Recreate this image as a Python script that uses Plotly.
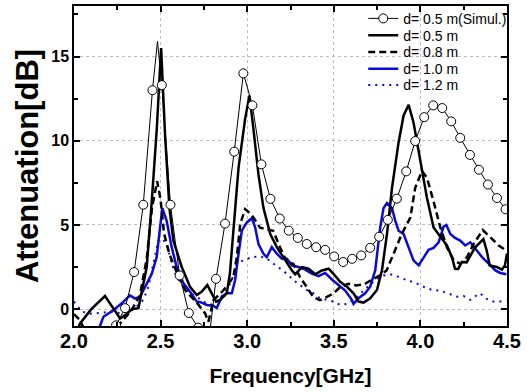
import plotly.graph_objects as go

# ---- data ----
sim_mark_f = [2.243, 2.295, 2.347, 2.400, 2.453, 2.507, 2.557, 2.610, 2.663, 2.717, 2.770,
              2.820, 2.872, 2.925, 2.978, 3.030, 3.082, 3.134, 3.188, 3.240, 3.292, 3.344,
              3.398, 3.450, 3.502, 3.554, 3.606, 3.658, 3.710, 3.762, 3.812, 3.864, 3.918,
              3.970, 4.022, 4.074, 4.126, 4.178, 4.230, 4.286, 4.338, 4.390, 4.442, 4.492]
sim_mark_v = [-0.96, 0.06, 2.2, 6.2, 13.0, 13.3, 6.2, 2.0, -0.23, -1.1, -2.6,
              1.8, 5.08, 9.35, 14.0, 12.1, 8.6, 6.55, 5.38, 4.66, 4.23, 3.87,
              3.68, 3.52, 3.13, 2.8, 2.99, 3.19, 3.64, 4.3, 5.3, 6.56, 8.18,
              9.98, 11.4, 12.1, 11.94, 11.15, 10.17, 9.16, 8.28, 7.4, 6.6, 5.93]
sim_peak_f = [2.482]
sim_peak_v = [15.9]

d05_f = [2.00, 2.035, 2.10, 2.179, 2.237, 2.266, 2.31, 2.333, 2.372, 2.42, 2.449, 2.478, 2.503,
         2.526, 2.551, 2.574, 2.622, 2.67, 2.709, 2.738, 2.77, 2.795, 2.82, 2.844, 2.882, 2.90,
         2.92, 2.95, 2.988, 3.013, 3.036, 3.065, 3.094, 3.133, 3.171, 3.219, 3.258, 3.277, 3.316,
         3.354, 3.393, 3.431, 3.47, 3.498, 3.537, 3.576, 3.614, 3.643, 3.672, 3.71, 3.749, 3.778,
         3.807, 3.836, 3.874, 3.903, 3.932, 3.96, 3.999, 4.038, 4.076, 4.115, 4.153, 4.182, 4.20,
         4.218, 4.24, 4.267, 4.315, 4.364, 4.383, 4.40, 4.442, 4.471, 4.488, 4.50]
d05_v = [-1.7, -0.85, 0.0, 0.78, -0.1, -0.55, -0.24, 0.0, 0.06, 2.5, 6.4, 10.7, 15.5,
         10.3, 6.0, 4.07, 2.5, 1.33, 0.84, 1.04, 1.43, 0.98, 0.45, 0.55, 0.94, 2.1,
         4.46, 8.4, 11.3, 12.68, 10.7, 8.0, 6.0, 4.46, 3.68, 2.9, 2.3, 2.07, 2.5,
         2.4, 2.07, 2.3, 2.4, 2.1, 1.62, 1.33, 0.94, 0.45, 0.39, 0.65, 1.14, 2.3,
         4.46, 7.2, 9.9, 11.5, 12.13, 11.1, 8.8, 6.6, 4.85, 4.27, 3.78, 3.09, 2.4,
         2.39, 2.8, 2.78, 3.66, 4.16, 3.47, 2.6, 2.5, 2.35, 2.6, 3.3]

d08_f = [2.00, 2.03, 2.06, 2.10, 2.20, 2.27, 2.33, 2.38, 2.42, 2.45, 2.48, 2.50, 2.52, 2.55,
         2.60, 2.65, 2.70, 2.757, 2.776, 2.805, 2.863, 2.92, 2.94, 2.96, 2.988, 3.026, 3.074,
         3.113, 3.15, 3.19, 3.23, 3.266, 3.305, 3.344, 3.382, 3.42, 3.459, 3.497, 3.536, 3.584,
         3.632, 3.68, 3.728, 3.767, 3.805, 3.834, 3.863, 3.892, 3.942, 3.97, 4.009, 4.038, 4.076,
         4.115, 4.153, 4.192, 4.23, 4.27, 4.307, 4.36, 4.404, 4.452, 4.496]
d08_v = [-0.3, -0.6, -1.2, -1.8, -2.0, -0.8, -0.1, 0.8, 3.0, 6.0, 7.6, 6.5, 4.5, 3.3,
         2.0, 1.0, 0.5, -0.25, -0.75, 0.53, 1.12, 1.9, 3.08, 5.06, 5.94, 5.6, 4.84,
         4.75, 4.65, 3.66, 2.78, 2.69, 1.9, 1.31, 0.72, 0.53, 0.72, 0.92, 1.31, 1.5,
         1.41, 1.5, 1.8, 2.0, 2.3, 2.98, 3.66, 4.45, 5.44, 7.2, 8.2, 7.8, 6.4,
         4.85, 3.68, 2.9, 2.7, 3.1, 3.87, 4.7, 4.27, 3.78, 3.48]

d10_f = [2.12, 2.15, 2.17, 2.227, 2.285, 2.323, 2.352, 2.38, 2.41, 2.449, 2.477, 2.50, 2.51,
         2.535, 2.564, 2.593, 2.632, 2.67, 2.709, 2.738, 2.767, 2.805, 2.824, 2.853, 2.882,
         2.911, 2.93, 2.95, 2.969, 2.998, 3.027, 3.046, 3.065, 3.094, 3.113, 3.142, 3.171,
         3.20, 3.229, 3.258, 3.296, 3.335, 3.373, 3.412, 3.45, 3.489, 3.527, 3.566, 3.604,
         3.614, 3.643, 3.681, 3.71, 3.739, 3.768, 3.787, 3.807, 3.836, 3.855, 3.874, 3.903,
         3.932, 3.96, 3.99, 4.018, 4.047, 4.076, 4.105, 4.134, 4.15, 4.173, 4.20, 4.23, 4.259,
         4.288, 4.317, 4.356, 4.394, 4.433, 4.461, 4.496]
d10_v = [-1.6, -1.0, -0.45, -0.06, 0.43, 0.82, 0.63, 0.72, 1.31, 2.1, 3.08, 4.9, 6.0,
         5.24, 3.68, 2.5, 1.53, 1.04, 0.45, 0.39, 0.25, 0.2, 0.06, 0.74, 0.94,
         0.94, 1.72, 3.29, 4.66, 5.15, 5.4, 4.85, 3.87, 3.29, 3.09, 3.68, 3.29,
         3.0, 3.0, 2.6, 2.5, 2.35, 2.11, 1.96, 2.15, 1.76, 1.43, 1.1, 0.55,
         0.31, 0.65, 0.94, 1.33, 2.3, 4.85, 6.0, 6.3, 6.0, 5.24, 4.66, 4.46,
         3.68, 2.9, 2.6, 3.09, 3.52, 3.64, 3.97, 4.9, 5.0, 4.46, 4.23, 4.07, 3.78,
         3.97, 3.58, 3.09, 2.7, 2.3, 2.15, 2.07]

d12_f = [2.00, 2.044, 2.092, 2.15, 2.208, 2.266, 2.323, 2.362, 2.40, 2.43, 2.458, 2.487, 2.507,
         2.535, 2.564, 2.593, 2.632, 2.67, 2.709, 2.747, 2.786, 2.824, 2.853, 2.882, 2.911,
         2.94, 2.978, 3.027, 3.075, 3.113, 3.152, 3.19, 3.229, 3.267, 3.306, 3.344, 3.383,
         3.421, 3.46, 3.498, 3.537, 3.576, 3.614, 3.652, 3.691, 3.739, 3.787, 3.826, 3.874,
         3.922, 3.97, 4.018, 4.067, 4.115, 4.163, 4.211, 4.25, 4.288, 4.327, 4.346, 4.375,
         4.414, 4.461, 4.496]
d12_v = [0.45, -0.14, -0.27, -0.23, -0.14, -0.23, -0.14, 0.16, 0.55, 1.33, 2.7, 4.07, 4.2,
         3.87, 2.7, 1.92, 1.33, 0.94, 0.74, 0.45, 0.25, 0.45, 0.74, 1.14, 1.72,
         2.7, 2.9, 3.09, 3.13, 3.0, 2.7, 2.4, 2.11, 1.72, 1.43, 1.14, 0.94,
         0.65, 0.55, 0.45, 0.25, 0.31, 0.55, 0.94, 1.29, 1.72, 2.0, 2.07, 1.92,
         1.72, 1.57, 1.33, 1.14, 1.1, 0.94, 0.74, 0.78, 0.55, 0.84, 0.94, 0.65,
         0.45, 0.45, 0.55]

x_ticks = [2.0, 2.5, 3.0, 3.5, 4.0, 4.5]
x_ticklabels = ["2.0", "2.5", "3.0", "3.5", "4.0", "4.5"]
y_ticks = [0, 5, 10, 15]
y_ticklabels = ["0", "5", "10", "15"]

# ---- build simulated trace (line through all points, circles only on marker points) ----
sim_pts = [(f, v, True) for f, v in zip(sim_mark_f, sim_mark_v)] + \
          [(f, v, False) for f, v in zip(sim_peak_f, sim_peak_v)]
sim_pts.sort(key=lambda p: p[0])
sim_f = [p[0] for p in sim_pts]
sim_v = [p[1] for p in sim_pts]
sim_fill = ["white" if p[2] else "rgba(0,0,0,0)" for p in sim_pts]
sim_edge = ["black" if p[2] else "rgba(0,0,0,0)" for p in sim_pts]

BLUE = "#0a0ad8"
FONT = "Liberation Sans, Arial, sans-serif"

# Legend rows (one small legend per entry so the row spacing matches the reference)
LEG_X = 0.668
LEG_Y = [0.960, 0.907, 0.855, 0.803, 0.752]

fig = go.Figure()
fig.add_trace(go.Scatter(x=d12_f, y=d12_v, mode="lines", name="d= 1.2 m", legend="legend5",
                         line=dict(color=BLUE, width=2, dash="2px,5px")))
fig.add_trace(go.Scatter(x=d10_f, y=d10_v, mode="lines", name="d= 1.0 m", legend="legend4",
                         line=dict(color=BLUE, width=2.5)))
fig.add_trace(go.Scatter(x=d08_f, y=d08_v, mode="lines", name="d= 0.8 m", legend="legend3",
                         line=dict(color="black", width=2.5, dash="7px,4px")))
fig.add_trace(go.Scatter(x=d05_f, y=d05_v, mode="lines", name="d= 0.5 m", legend="legend2",
                         line=dict(color="black", width=2.5)))
fig.add_trace(go.Scatter(x=sim_f, y=sim_v, mode="lines+markers", name="d= 0.5 m(Simul.)",
                         legend="legend",
                         line=dict(color="black", width=1),
                         marker=dict(symbol="circle", size=9, color=sim_fill,
                                     line=dict(color=sim_edge, width=1))))

axis_common = dict(showline=True, linecolor="black", linewidth=1.5, mirror="allticks",
                   ticks="inside", ticklen=6, tickwidth=1.5, tickcolor="black",
                   showgrid=True, gridcolor="#bdbdbd", griddash="dot", gridwidth=1,
                   zeroline=False, automargin=False)

fig.update_xaxes(range=[2.0, 4.5], tickvals=x_ticks, ticktext=x_ticklabels,
                 ticklabelstandoff=-4,
                 minor=dict(ticks="inside", ticklen=4, tickwidth=1.5, tickcolor="black",
                            dtick=0.25, tick0=2.0, showgrid=False),
                 tickfont=dict(family=FONT, size=20, color="black", weight="bold"),
                 title=dict(text="Frequency[GHz]", standoff=18,
                            font=dict(family=FONT, size=21, color="black", weight="bold")),
                 **axis_common)
fig.update_yaxes(range=[-1, 18], tickvals=y_ticks, ticktext=y_ticklabels,
                 minor=dict(ticks="inside", ticklen=4, tickwidth=1.5, tickcolor="black",
                            dtick=2.5, tick0=0, showgrid=False),
                 tickfont=dict(family=FONT, size=16, color="black", weight="bold"),
                 title=dict(text="Attenuation[dB]", standoff=3,
                            font=dict(family=FONT, size=31, color="black", weight="bold")),
                 **axis_common)

leg_common = dict(x=LEG_X, xanchor="left", yanchor="middle",
                  bgcolor="rgba(255,255,255,0)", borderwidth=0,
                  font=dict(family=FONT, size=14, color="black"))
fig.update_layout(
    width=527, height=392,
    margin=dict(l=74, r=20, t=3, b=66),
    paper_bgcolor="white", plot_bgcolor="white",
    showlegend=True,
    legend=dict(y=LEG_Y[0], **leg_common),
    legend2=dict(y=LEG_Y[1], **leg_common),
    legend3=dict(y=LEG_Y[2], **leg_common),
    legend4=dict(y=LEG_Y[3], **leg_common),
    legend5=dict(y=LEG_Y[4], **leg_common),
)

fig.write_html("out.html",
               config={"displayModeBar": False},
               post_script="document.body.style.margin='0';document.body.style.overflow='hidden';")
